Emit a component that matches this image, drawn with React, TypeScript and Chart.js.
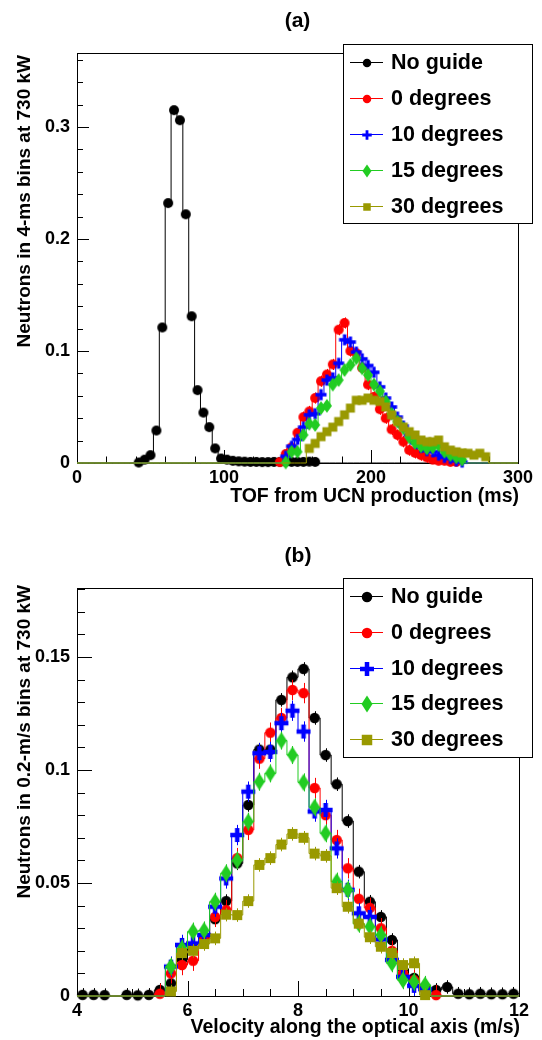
import React, { useEffect, useRef } from 'react';
import { Chart, registerables } from 'chart.js';

Chart.register(...registerables);

const FONT = "'Liberation Sans', Arial, Helvetica, sans-serif";

// ---------------- Panel (a): time of flight, 4-ms bins ----------------
const tofNoGuideX = [42, 46, 50, 54, 58, 62, 66, 70, 74, 78, 82, 86, 90, 94, 98, 102, 106, 110, 114, 118, 122, 126, 130, 134, 138, 142, 146, 150, 154, 158, 162];
const tofNoGuideY = [0.0004, 0.003, 0.007, 0.029, 0.121, 0.232, 0.315, 0.306, 0.222, 0.131, 0.065, 0.045, 0.032, 0.013, 0.004, 0.003, 0.002, 0.0015, 0.0012, 0.001, 0.001, 0.0008, 0.0008, 0.001, 0.001, 0.0012, 0.001, 0.001, 0.001, 0.0012, 0.001];

const tofDeg0X = [138, 142, 146, 150, 154, 158, 162, 166, 170, 174, 178, 182, 186, 190, 194, 198, 202, 206, 210, 214, 218, 222, 226, 230, 234, 238, 242, 246, 250, 254, 258];
const tofDeg0Y = [0.0008, 0.008, 0.014, 0.027, 0.041, 0.046, 0.058, 0.073, 0.079, 0.088, 0.119, 0.125, 0.1, 0.098, 0.085, 0.07, 0.059, 0.048, 0.04, 0.03, 0.025, 0.019, 0.0115, 0.009, 0.007, 0.005, 0.003, 0.002, 0.002, 0.001, 0.001];

const tofDeg10X = [142, 146, 150, 154, 158, 162, 166, 170, 174, 178, 182, 186, 190, 194, 198, 202, 206, 210, 214, 218, 222, 226, 230, 234, 238, 242, 246, 250, 254, 258, 262];
const tofDeg10Y = [0.006, 0.015, 0.021, 0.032, 0.043, 0.044, 0.061, 0.074, 0.076, 0.089, 0.11, 0.108, 0.099, 0.093, 0.087, 0.081, 0.068, 0.058, 0.05, 0.041, 0.033, 0.025, 0.018, 0.014, 0.011, 0.01, 0.007, 0.005, 0.004, 0.002, 0.0008];

const tofDeg15X = [142, 146, 150, 154, 158, 162, 166, 170, 174, 178, 182, 186, 190, 194, 198, 202, 206, 210, 214, 218, 222, 226, 230, 234, 238, 242, 246, 250, 254, 258, 262];
const tofDeg15Y = [0.0005, 0.01, 0.01, 0.025, 0.035, 0.034, 0.049, 0.051, 0.07, 0.074, 0.083, 0.0875, 0.0935, 0.0845, 0.0785, 0.07, 0.064, 0.055, 0.044, 0.037, 0.031, 0.023, 0.018, 0.015, 0.013, 0.014, 0.016, 0.01, 0.007, 0.005, 0.003];

const tofDeg30X = [158, 162, 166, 170, 174, 178, 182, 186, 190, 194, 198, 202, 206, 210, 214, 218, 222, 226, 230, 234, 238, 242, 246, 250, 254, 258, 262, 266, 270, 274, 278];
const tofDeg30Y = [0.013, 0.0175, 0.0235, 0.028, 0.032, 0.037, 0.043, 0.049, 0.056, 0.056, 0.058, 0.056, 0.055, 0.05, 0.043, 0.037, 0.032, 0.028, 0.025, 0.0205, 0.019, 0.019, 0.0205, 0.0145, 0.0115, 0.01, 0.009, 0.0087, 0.007, 0.0087, 0.0056];

// uncertainty per series (panel a)
const tofErr = [0.002, 0.005, 0.004, 0.003, 0.002];

// ---------------- Panel (b): velocity, 0.2-m/s bins ----------------
const velNoGuideX = [4.1, 4.3, 4.5, 4.9, 5.1, 5.3, 5.5, 5.7, 5.9, 6.1, 6.3, 6.5, 6.7, 6.9, 7.1, 7.3, 7.5, 7.7, 7.9, 8.1, 8.3, 8.5, 8.7, 8.9, 9.1, 9.3, 9.5, 9.7, 9.9, 10.1, 10.3, 10.5, 10.7, 10.9, 11.1, 11.3, 11.5, 11.7, 11.9];
const velNoGuideY = [0.0005, 0.0005, 0.0004, 0.0005, 0.0003, 0.0005, 0.0027, 0.0056, 0.016, 0.021, 0.026, 0.034, 0.042, 0.0587, 0.0845, 0.109, 0.109, 0.131, 0.141, 0.1447, 0.123, 0.1066, 0.0937, 0.0774, 0.055, 0.0417, 0.035, 0.0248, 0.012, 0.008, 0.004, 0.0027, 0.004, 0.001, 0.0008, 0.001, 0.0008, 0.0008, 0.001];

const velDeg0X = [5.5, 5.7, 5.9, 6.1, 6.3, 6.5, 6.7, 6.9, 7.1, 7.3, 7.5, 7.7, 7.9, 8.1, 8.3, 8.5, 8.7, 8.9, 9.1, 9.3, 9.5, 9.7, 9.9, 10.1, 10.3, 10.5];
const velDeg0Y = [0.001, 0.01, 0.0137, 0.0156, 0.025, 0.035, 0.038, 0.061, 0.0735, 0.105, 0.1165, 0.123, 0.1354, 0.134, 0.092, 0.08, 0.069, 0.0565, 0.043, 0.039, 0.03, 0.02, 0.01, 0.007, 0.003, 0.0004];

const velDeg10X = [5.7, 5.9, 6.1, 6.3, 6.5, 6.7, 6.9, 7.1, 7.3, 7.5, 7.7, 7.9, 8.1, 8.3, 8.5, 8.7, 8.9, 9.1, 9.3, 9.5, 9.7, 9.9, 10.1, 10.3];
const velDeg10Y = [0.013, 0.0226, 0.0233, 0.027, 0.0395, 0.052, 0.0712, 0.0904, 0.1074, 0.108, 0.1207, 0.1262, 0.117, 0.0816, 0.0823, 0.0653, 0.047, 0.0366, 0.035, 0.025, 0.016, 0.0085, 0.0045, 0.003];

const velDeg15X = [5.7, 5.9, 6.1, 6.3, 6.5, 6.7, 6.9, 7.1, 7.3, 7.5, 7.7, 7.9, 8.1, 8.3, 8.5, 8.7, 8.9, 9.1, 9.3, 9.5, 9.7, 9.9, 10.1, 10.3];
const velDeg15Y = [0.013, 0.021, 0.0285, 0.029, 0.0417, 0.0543, 0.06, 0.0771, 0.0948, 0.0985, 0.113, 0.1066, 0.0945, 0.0835, 0.072, 0.0506, 0.047, 0.032, 0.0307, 0.027, 0.0145, 0.007, 0.0063, 0.0049];

const velDeg30X = [5.7, 5.9, 6.1, 6.3, 6.5, 6.7, 6.9, 7.1, 7.3, 7.5, 7.7, 7.9, 8.1, 8.3, 8.5, 8.7, 8.9, 9.1, 9.3, 9.5, 9.7, 9.9, 10.1, 10.3];
const velDeg30Y = [0.002, 0.019, 0.02, 0.023, 0.0255, 0.036, 0.0358, 0.042, 0.058, 0.061, 0.067, 0.0717, 0.07, 0.063, 0.062, 0.0477, 0.0395, 0.032, 0.026, 0.0218, 0.019, 0.0137, 0.0145, 0.0004];

// uncertainty per series (panel b)
const velErr = [0.003, 0.0045, 0.0045, 0.004, 0.003];

// ---------------- Shared series descriptions ----------------
const seriesLabels = ['No guide', '0 degrees', '10 degrees', '15 degrees', '30 degrees'];
const seriesColors = ['#000000', '#ff0000', '#0000ff', '#22cc22', '#999900'];
type MarkerKind = 'circle' | 'cross' | 'diamond' | 'square';
const seriesMarkers: MarkerKind[] = ['circle', 'circle', 'cross', 'diamond', 'square'];

interface MarkerSize { circle: number; cross: [number, number]; diamond: [number, number]; square: number; }

interface PanelCfg {
  title: string;
  xTitle: string;
  yTitle: string;
  xs: number[][];
  ys: number[][];
  errs: number[];
  xMin: number; xMax: number; binW: number; yMax: number;
  xStep: number; yStep: number; xMinor: number; yMinor: number;
  area: { left: number; right: number; top: number; bottom: number };
  height: number;
  tickLen: { xMaj: number; xMin: number; yMaj: number; yMin: number };
  titleY: number; xTitleY: number; yTitleX: number; yTitleEnd: number;
  legend: { left: number; right: number; top: number; bottom: number; first: number; step: number };
  plotMarker: MarkerSize;
  legendMarker: MarkerSize;
}

const panelA: PanelCfg = {
  title: '(a)',
  xTitle: 'TOF from UCN production (ms)',
  yTitle: 'Neutrons in 4-ms bins at 730 kW',
  xs: [tofNoGuideX, tofDeg0X, tofDeg10X, tofDeg15X, tofDeg30X],
  ys: [tofNoGuideY, tofDeg0Y, tofDeg10Y, tofDeg15Y, tofDeg30Y],
  errs: tofErr,
  xMin: 0, xMax: 300, binW: 4, yMax: 0.366,
  xStep: 100, yStep: 0.1, xMinor: 20, yMinor: 0.02,
  area: { left: 77, right: 518, top: 53, bottom: 463 },
  height: 520,
  tickLen: { xMaj: 13, xMin: 6.5, yMaj: 12, yMin: 6 },
  titleY: 21, xTitleY: 497, yTitleX: 25, yTitleEnd: 55,
  legend: { left: 343, right: 532, top: 44, bottom: 223, first: 17.8, step: 36 },
  plotMarker: { circle: 10, cross: [11, 3.3], diamond: [10, 14], square: 9 },
  legendMarker: { circle: 8.5, cross: [9.5, 2.8], diamond: [9, 13], square: 7.5 },
};

const panelB: PanelCfg = {
  title: '(b)',
  xTitle: 'Velocity along the optical axis (m/s)',
  yTitle: 'Neutrons in 0.2-m/s bins at 730 kW',
  xs: [velNoGuideX, velDeg0X, velDeg10X, velDeg15X, velDeg30X],
  ys: [velNoGuideY, velDeg0Y, velDeg10Y, velDeg15Y, velDeg30Y],
  errs: velErr,
  xMin: 4, xMax: 12, binW: 0.2, yMax: 0.1805,
  xStep: 2, yStep: 0.05, xMinor: 0.5, yMinor: 0.01,
  area: { left: 77, right: 519, top: 68, bottom: 476 },
  height: 520,
  tickLen: { xMaj: 15, xMin: 7, yMaj: 15, yMin: 8 },
  titleY: 36, xTitleY: 508, yTitleX: 25, yTitleEnd: 65,
  legend: { left: 343, right: 532, top: 58, bottom: 237, first: 18, step: 35.8 },
  plotMarker: { circle: 10.5, cross: [14, 4.5], diamond: [11, 17], square: 10 },
  legendMarker: { circle: 10.5, cross: [14, 4.5], diamond: [11, 17], square: 10.5 },
};

function makeMarker(kind: MarkerKind, color: string, size: MarkerSize): HTMLCanvasElement {
  let w = 0, h = 0, t = 0;
  if (kind === 'circle') { w = h = size.circle; }
  else if (kind === 'square') { w = h = size.square; }
  else if (kind === 'diamond') { w = size.diamond[0]; h = size.diamond[1]; }
  else { w = h = size.cross[0]; t = size.cross[1]; }
  const c = document.createElement('canvas');
  const pad = 2;
  c.width = Math.ceil(w) + pad * 2 + (Math.ceil(w) % 2);
  c.height = Math.ceil(h) + pad * 2 + (Math.ceil(h) % 2);
  const ctx = c.getContext('2d')!;
  const cx = c.width / 2, cy = c.height / 2;
  ctx.fillStyle = color;
  ctx.beginPath();
  if (kind === 'circle') {
    ctx.arc(cx, cy, w / 2, 0, Math.PI * 2);
  } else if (kind === 'square') {
    ctx.rect(cx - w / 2, cy - h / 2, w, h);
  } else if (kind === 'diamond') {
    ctx.moveTo(cx, cy - h / 2);
    ctx.lineTo(cx + w / 2, cy);
    ctx.lineTo(cx, cy + h / 2);
    ctx.lineTo(cx - w / 2, cy);
    ctx.closePath();
  } else {
    ctx.rect(cx - w / 2, cy - t / 2, w, t);
    ctx.rect(cx - t / 2, cy - h / 2, t, h);
  }
  ctx.fill();
  return c;
}

function buildHist(xs: number[], ys: number[], xMin: number, xMax: number, bw: number) {
  const n = Math.round((xMax - xMin) / bw);
  const vals: number[] = new Array(n).fill(0);
  xs.forEach((x, i) => {
    const b = Math.floor((x - xMin) / bw + 1e-6);
    if (b >= 0 && b < n) vals[b] = ys[i];
  });
  const pts = vals.map((v, i) => ({ x: xMin + i * bw, y: v }));
  pts.push({ x: xMax, y: vals[n - 1] });
  return pts;
}

function fmt(v: number) {
  return String(Number(v.toFixed(4)));
}

function Panel({ cfg }: { cfg: PanelCfg }) {
  const ref = useRef<HTMLCanvasElement>(null);

  useEffect(() => {
    const canvas = ref.current;
    if (!canvas) return;
    const nS = seriesLabels.length;
    const plotMarkers = seriesMarkers.map((m, i) => makeMarker(m, seriesColors[i], cfg.plotMarker));
    const legendMarkers = seriesMarkers.map((m, i) => makeMarker(m, seriesColors[i], cfg.legendMarker));

    const datasets: any[] = [];
    for (let i = 0; i < nS; i++) {
      const ord = (nS - i) * 2;
      datasets.push({
        label: seriesLabels[i] + ' histogram',
        data: buildHist(cfg.xs[i], cfg.ys[i], cfg.xMin, cfg.xMax, cfg.binW),
        showLine: true,
        stepped: 'before',
        borderColor: seriesColors[i],
        backgroundColor: seriesColors[i],
        borderWidth: 1,
        pointRadius: 0,
        fill: false,
        clip: false,
        order: ord,
      });
      datasets.push({
        label: seriesLabels[i],
        data: cfg.xs[i].map((x, k) => ({ x, y: cfg.ys[i][k] })),
        showLine: false,
        pointStyle: plotMarkers[i],
        pointRadius: 5,
        borderColor: seriesColors[i],
        backgroundColor: seriesColors[i],
        clip: false,
        order: ord - 1,
        errVal: cfg.errs[i],
      });
    }

    const a = cfg.area;
    const W = 542;

    const deco = {
      id: 'rootDeco',
      beforeDatasetsDraw(chart: any) {
        const ctx = chart.ctx as CanvasRenderingContext2D;
        const xs = chart.scales.x, ys = chart.scales.y;
        const ca = chart.chartArea;
        ctx.save();
        ctx.strokeStyle = '#000';
        ctx.lineWidth = 1;
        ctx.beginPath();
        const nx = Math.round((cfg.xMax - cfg.xMin) / cfg.xMinor);
        for (let k = 0; k <= nx; k++) {
          const v = cfg.xMin + k * cfg.xMinor;
          const major = Math.abs(v / cfg.xStep - Math.round(v / cfg.xStep)) < 1e-6;
          const px = Math.round(xs.getPixelForValue(v)) + 0.5;
          const len = major ? cfg.tickLen.xMaj : cfg.tickLen.xMin;
          ctx.moveTo(px, ca.bottom);
          ctx.lineTo(px, ca.bottom - len);
        }
        const ny = Math.floor(cfg.yMax / cfg.yMinor + 1e-6);
        for (let k = 0; k <= ny; k++) {
          const v = k * cfg.yMinor;
          const major = Math.abs(v / cfg.yStep - Math.round(v / cfg.yStep)) < 1e-6;
          const py = Math.round(ys.getPixelForValue(v)) + 0.5;
          const len = major ? cfg.tickLen.yMaj : cfg.tickLen.yMin;
          ctx.moveTo(ca.left, py);
          ctx.lineTo(ca.left + len, py);
        }
        ctx.stroke();
        ctx.strokeRect(Math.round(ca.left) + 0.5, Math.round(ca.top) + 0.5, Math.round(ca.right - ca.left), Math.round(ca.bottom - ca.top));
        ctx.restore();
      },
      beforeDatasetDraw(chart: any, args: any) {
        const ds = chart.data.datasets[args.index];
        if (ds.errVal === undefined) return;
        const ctx = chart.ctx as CanvasRenderingContext2D;
        const xs = chart.scales.x, ys = chart.scales.y;
        ctx.save();
        ctx.strokeStyle = ds.borderColor;
        ctx.lineWidth = 1;
        ctx.beginPath();
        ds.data.forEach((p: any) => {
          const px = Math.round(xs.getPixelForValue(p.x)) + 0.5;
          const y0 = ys.getPixelForValue(Math.max(0, p.y - ds.errVal));
          const y1 = ys.getPixelForValue(p.y + ds.errVal);
          ctx.moveTo(px, y0);
          ctx.lineTo(px, y1);
        });
        ctx.stroke();
        ctx.restore();
      },
      afterDraw(chart: any) {
        const ctx = chart.ctx as CanvasRenderingContext2D;
        const ca = chart.chartArea;
        ctx.save();
        ctx.fillStyle = '#000';
        ctx.font = `bold 21px ${FONT}`;
        ctx.textAlign = 'center';
        ctx.textBaseline = 'middle';
        ctx.fillText(cfg.title, (ca.left + ca.right) / 2, cfg.titleY);
        ctx.font = `bold 19.5px ${FONT}`;
        ctx.textAlign = 'right';
        ctx.fillText(cfg.xTitle, ca.right + 1, cfg.xTitleY);
        ctx.save();
        ctx.translate(cfg.yTitleX, cfg.yTitleEnd);
        ctx.rotate(-Math.PI / 2);
        ctx.font = `bold 19px ${FONT}`;
        ctx.textAlign = 'right';
        ctx.textBaseline = 'middle';
        ctx.fillText(cfg.yTitle, 0, 0);
        ctx.restore();
        const L = cfg.legend;
        ctx.fillStyle = '#fff';
        ctx.fillRect(L.left, L.top, L.right - L.left, L.bottom - L.top);
        ctx.strokeStyle = '#000';
        ctx.lineWidth = 1;
        ctx.strokeRect(L.left + 0.5, L.top + 0.5, L.right - L.left, L.bottom - L.top);
        for (let i = 0; i < nS; i++) {
          const yy = L.top + L.first + i * L.step;
          const ly = Math.round(yy) + 0.5;
          ctx.strokeStyle = seriesColors[i];
          ctx.beginPath();
          ctx.moveTo(L.left + 7, ly);
          ctx.lineTo(L.left + 40, ly);
          ctx.stroke();
          const m = legendMarkers[i];
          ctx.drawImage(m, Math.round(L.left + 23.5 - m.width / 2), Math.round(ly - m.height / 2));
          ctx.fillStyle = '#000';
          ctx.font = `bold 21.5px ${FONT}`;
          ctx.textAlign = 'left';
          ctx.textBaseline = 'middle';
          ctx.fillText(seriesLabels[i], L.left + 48, yy + 1);
        }
        ctx.restore();
      },
    };

    const tickFont = { family: FONT, size: 18, weight: 'bold' as const };

    const chart = new Chart(canvas, {
      type: 'scatter',
      data: { datasets },
      options: {
        responsive: false,
        animation: false,
        devicePixelRatio: 1,
        events: [],
        layout: { padding: { left: 0, top: a.top, right: W - a.right, bottom: 0 } },
        plugins: { legend: { display: false }, tooltip: { enabled: false }, title: { display: false } },
        scales: {
          x: {
            type: 'linear',
            min: cfg.xMin,
            max: cfg.xMax,
            grid: { display: false, drawTicks: false },
            border: { display: false },
            ticks: {
              stepSize: cfg.xStep,
              includeBounds: false,
              autoSkip: false,
              maxRotation: 0,
              padding: 4,
              color: '#000',
              font: tickFont,
              callback: (v: any) => fmt(Number(v)),
            },
            afterFit: (s: any) => {
              s.height = cfg.height - a.bottom;
              s.paddingLeft = 0;
              s.paddingRight = 0;
            },
          },
          y: {
            type: 'linear',
            min: 0,
            max: cfg.yMax,
            grid: { display: false, drawTicks: false },
            border: { display: false },
            ticks: {
              stepSize: cfg.yStep,
              includeBounds: false,
              autoSkip: false,
              padding: 7,
              color: '#000',
              font: tickFont,
              callback: (v: any) => fmt(Number(v)),
            },
            afterFit: (s: any) => {
              s.width = a.left;
              s.paddingTop = 0;
              s.paddingBottom = 0;
            },
          },
        },
      } as any,
      plugins: [deco],
    });

    return () => chart.destroy();
  }, [cfg]);

  return <canvas ref={ref} width={542} height={cfg.height} style={{ display: 'block', width: 542, height: cfg.height }} />;
}

export default function App() {
  return (
    <div style={{ position: 'absolute', left: 0, top: 0, width: 542, height: 1040, background: '#fff' }}>
      <Panel cfg={panelA} />
      <Panel cfg={panelB} />
    </div>
  );
}
